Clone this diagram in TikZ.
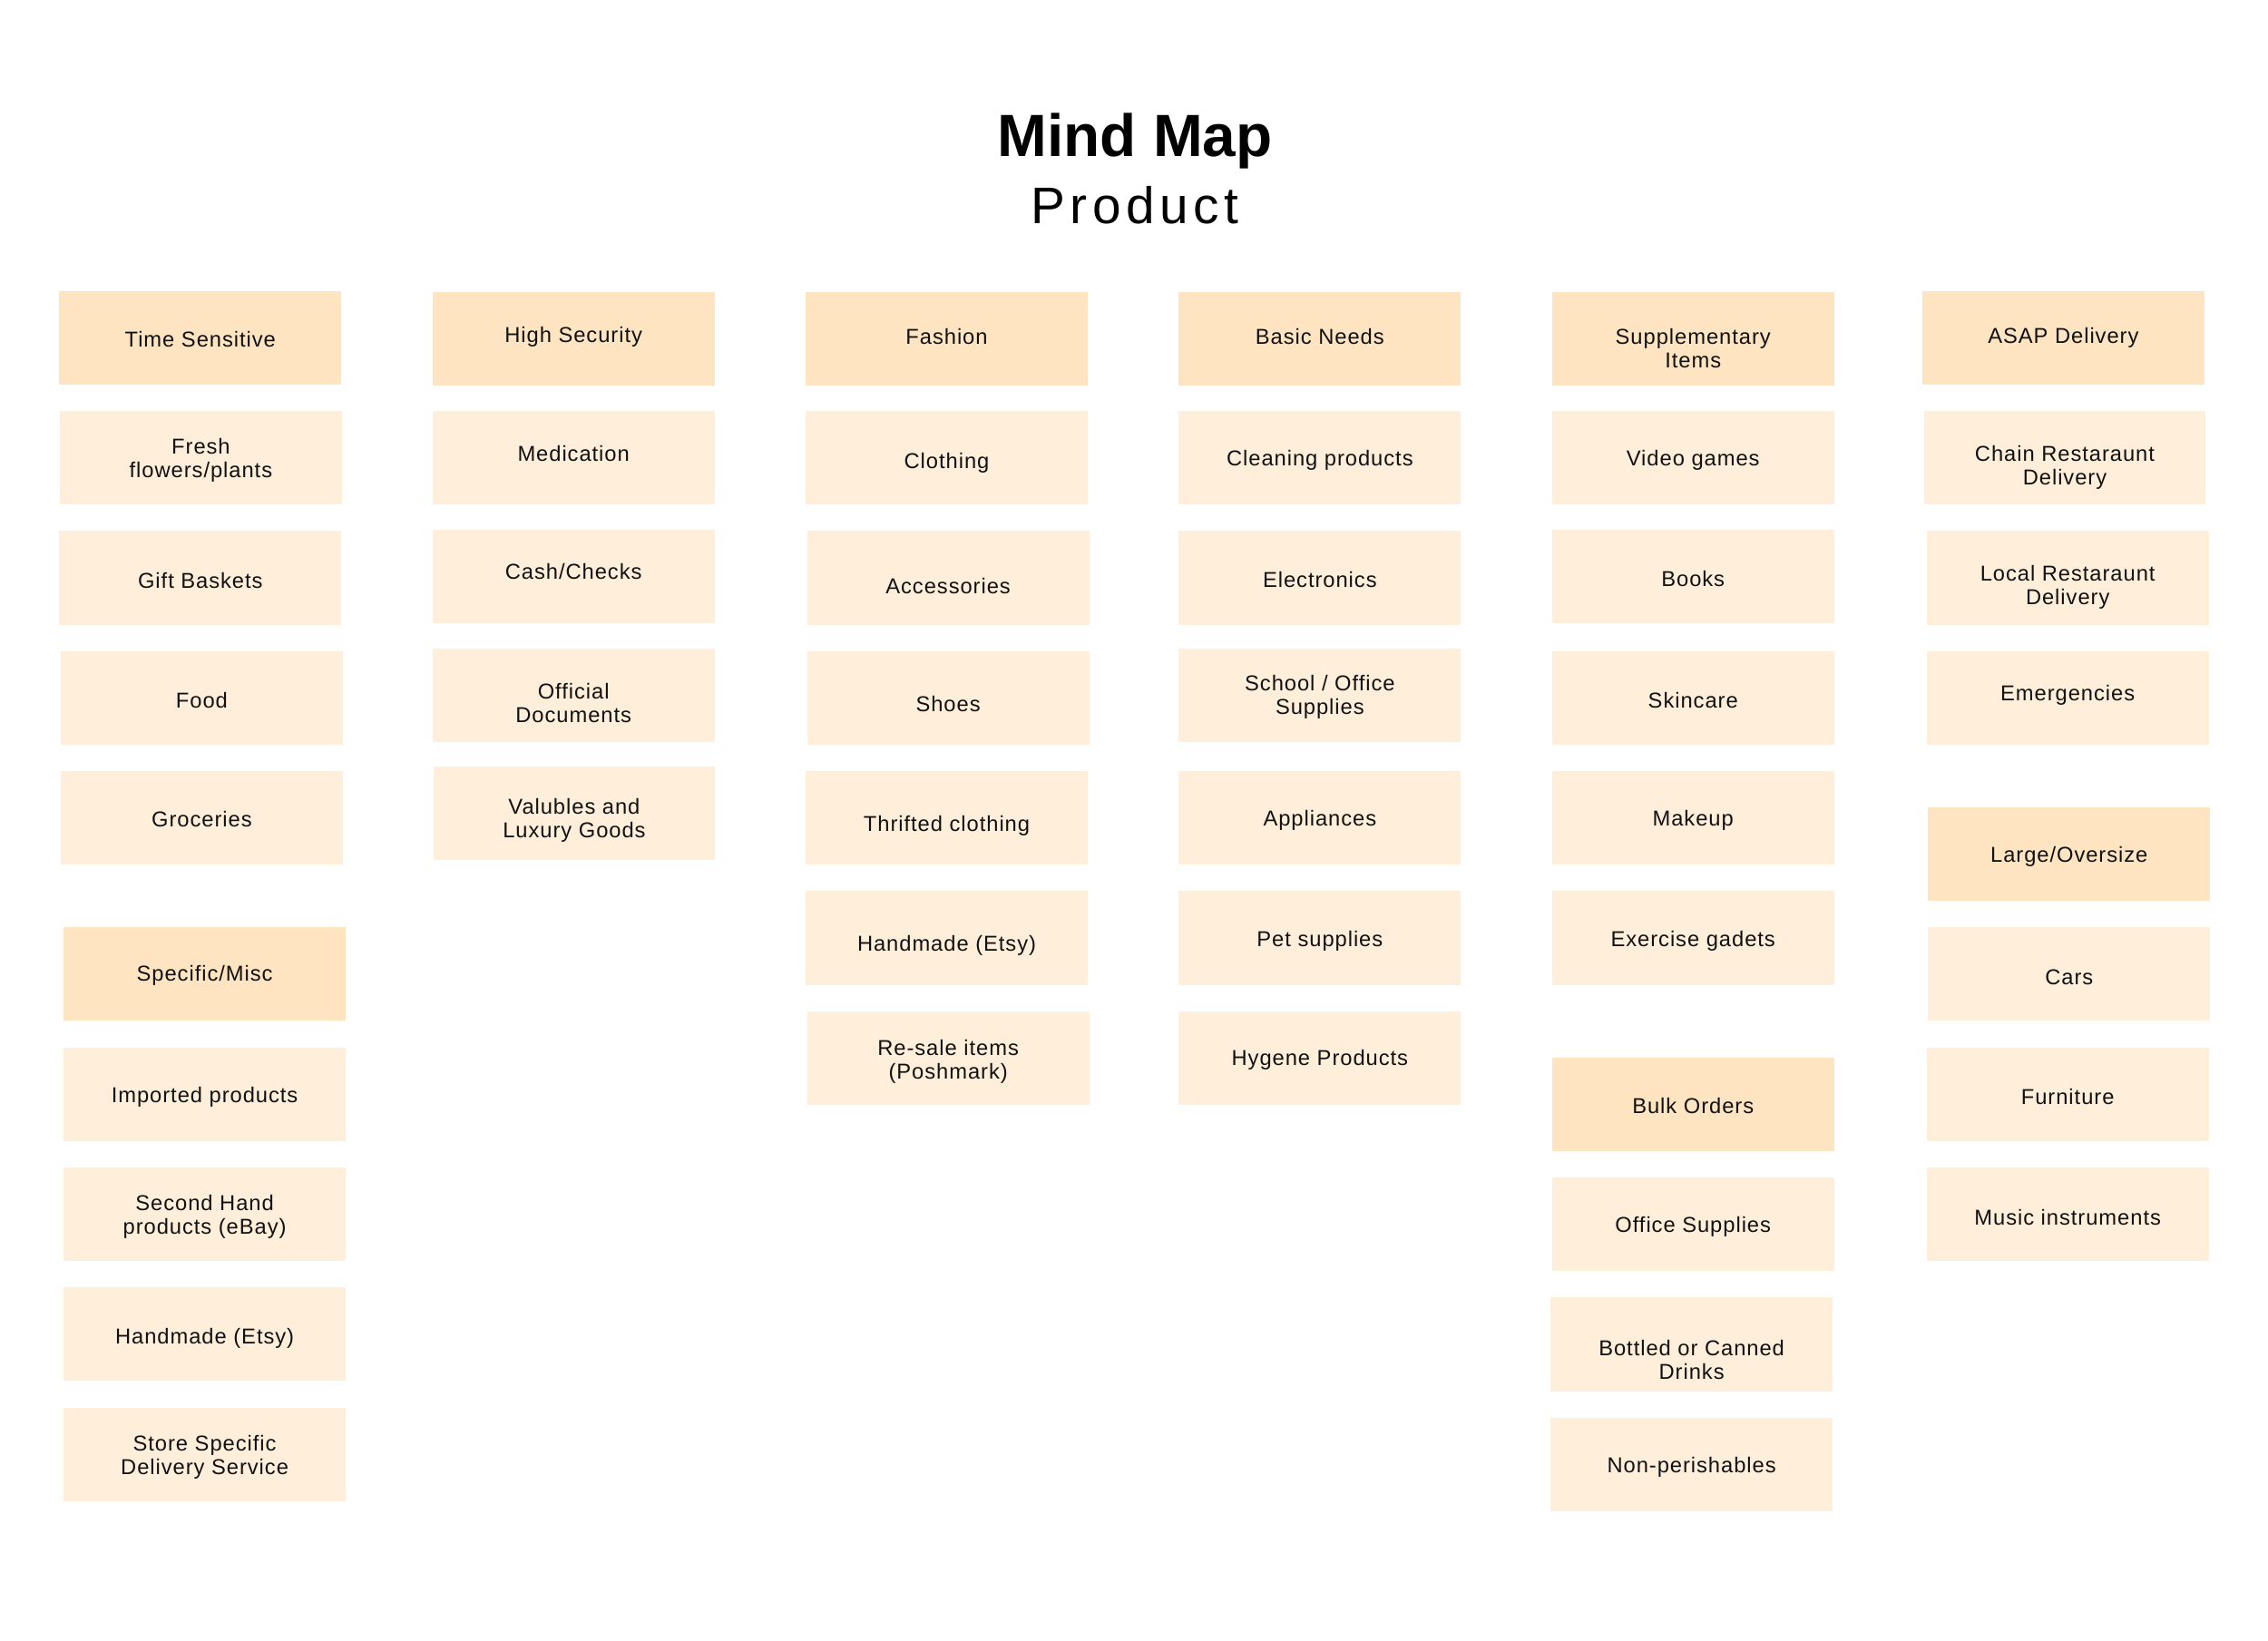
\documentclass[tikz,border=0pt]{standalone}
\usepackage{fontspec}
\setmainfont{Liberation Sans}
\newfontfamily\itemfont[LetterSpace=4]{Liberation Sans}
\newfontfamily\subfont[LetterSpace=10]{Liberation Sans}
\definecolor{headfill}{HTML}{FEE4C1}
\definecolor{itemfill}{HTML}{FFEFDA}
\definecolor{inktext}{HTML}{111111}
\newcommand\bx[6]{%
  \node[#2] (#1) at (#3,#4) {};
  \node[txt] (#1t) at (#3,{#4+#5+1.5}) {#6};}
\begin{document}
\begin{tikzpicture}[x=0.638pt,y=-0.638pt,
  boxbase/.style={rectangle, draw=none, inner sep=0pt, minimum width=124.4pt, minimum height=41.3pt},
  head/.style={boxbase, fill=headfill},
  item/.style={boxbase, fill=itemfill},
  txt/.style={inner sep=0pt, align=center, text=inktext, font=\itemfont\fontsize{9.5}{10.4}\selectfont}]
\useasboundingbox[fill=white] (0,0) rectangle (1568,1134);

\node[anchor=base, font=\bfseries\fontsize{26.3}{30}\selectfont] (title) at (784.6,107.9) {Mind Map};
\node[anchor=base, font=\subfont\fontsize{22.7}{26}\selectfont] (subtitle) at (784.6,154.3) {Product};

% column 1
\bx{ts}{head}{138.5}{233.5}{-0.5}{Time Sensitive}
\bx{ff}{item}{138.9}{316.5}{0.5}{Fresh\\flowers/plants}
\bx{gb}{item}{138.5}{399.5}{0.5}{Gift Baskets}
\bx{fd}{item}{139.5}{482.5}{0.5}{Food}
\bx{gr}{item}{139.5}{565.5}{-0.5}{Groceries}
\bx{sm}{head}{141.5}{673.5}{-0.5}{Specific/Misc}
\bx{ip}{item}{141.5}{756.5}{0.5}{Imported products}
\bx{sh}{item}{141.5}{839.5}{0}{Second Hand\\products (eBay)}
\bx{hea}{item}{141.5}{922.5}{1.5}{Handmade (Etsy)}
\bx{ss}{item}{141.5}{1005.5}{0.5}{Store Specific\\Delivery Service}

% column 2
\bx{hs}{head}{396.5}{234.5}{-3}{High Security}
\bx{md}{item}{396.5}{316.5}{-4.5}{Medication}
\bx{cc}{item}{396.5}{398.5}{-5}{Cash/Checks}
\bx{od}{item}{396.5}{480.5}{4}{Official\\Documents}
\bx{vl}{item}{397}{562.5}{3}{Valubles and\\Luxury Goods}

% column 3
\bx{fa}{head}{654.5}{234.5}{-3}{Fashion}
\bx{cl}{item}{654.5}{316.5}{2}{Clothing}
\bx{ac}{item}{655.5}{399.5}{4}{Accessories}
\bx{sho}{item}{655.5}{482.5}{3}{Shoes}
\bx{tc}{item}{654.5}{565.5}{4}{Thrifted clothing}
\bx{hm}{item}{654.5}{648.5}{4}{Handmade (Etsy)}
\bx{rs}{item}{655.5}{731.5}{1}{Re-sale items\\(Poshmark)}

% column 4
\bx{bn}{head}{912.5}{234.5}{-3}{Basic Needs}
\bx{cp}{item}{912.5}{316.5}{0.5}{Cleaning products}
\bx{el}{item}{912.5}{399.5}{0}{Electronics}
\bx{so}{item}{912.5}{480.5}{0}{School / Office\\Supplies}
\bx{ap}{item}{912.5}{565.5}{0.5}{Appliances}
\bx{ps}{item}{912.5}{648.5}{0.5}{Pet supplies}
\bx{hy}{item}{912.5}{731.5}{0}{Hygene Products}

% column 5
\bx{si}{head}{1170.5}{234.5}{5}{Supplementary\\Items}
\bx{vg}{item}{1170.5}{316.5}{0}{Video games}
\bx{bk}{item}{1170.5}{398.5}{0}{Books}
\bx{sk}{item}{1170.5}{482.5}{0.5}{Skincare}
\bx{mk}{item}{1170.5}{565.5}{0.5}{Makeup}
\bx{eg}{item}{1170.5}{648.5}{0.5}{Exercise gadets}
\bx{bo}{head}{1170.5}{763.5}{-0.5}{Bulk Orders}
\bx{os}{item}{1170.5}{846.5}{0}{Office Supplies}
\bx{bd}{item}{1169.5}{929.5}{9}{Bottled or Canned\\Drinks}
\bx{np}{item}{1169.5}{1012.5}{0.5}{Non-perishables}

% column 6
\bx{asap}{head}{1426.5}{233.5}{-1.5}{ASAP Delivery}
\bx{cr}{item}{1427.5}{316.5}{5}{Chain Restaraunt\\Delivery}
\bx{lr}{item}{1429.5}{399.5}{5}{Local Restaraunt\\Delivery}
\bx{em}{item}{1429.5}{482.5}{-3.5}{Emergencies}
\bx{lo}{head}{1430.5}{590.5}{0}{Large/Oversize}
\bx{ca}{item}{1430.5}{673.5}{0.5}{Cars}
\bx{fu}{item}{1429.5}{756.5}{0.5}{Furniture}
\bx{mi}{item}{1429.5}{839.5}{0.5}{Music instruments}
\end{tikzpicture}
\end{document}
